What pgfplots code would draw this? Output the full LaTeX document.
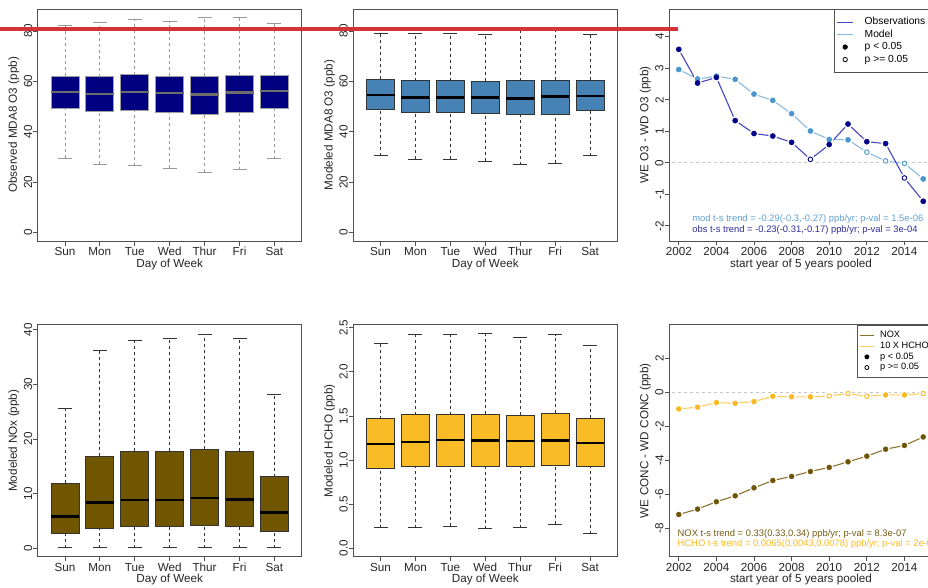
\documentclass[border=0pt]{standalone}
\usepackage{fontspec}
\setmainfont{Liberation Sans}
\usepackage{pgfplots}
\pgfplotsset{compat=1.18}
\usepgfplotslibrary{statistics}

\definecolor{axgray}{RGB}{80,80,80}
\definecolor{navyfill}{RGB}{0,0,128}
\definecolor{steel}{RGB}{70,130,180}
\definecolor{olivebox}{RGB}{112,86,0}
\definecolor{goldbox}{RGB}{249,188,38}
\definecolor{obsline}{RGB}{70,70,190}
\definecolor{obspt}{RGB}{0,0,139}
\definecolor{modline}{RGB}{135,185,225}
\definecolor{modpt}{RGB}{75,150,205}
\definecolor{modtxt}{RGB}{95,160,210}
\definecolor{obstxt}{RGB}{45,45,155}
\definecolor{noxline}{RGB}{140,115,45}
\definecolor{noxpt}{RGB}{110,85,5}
\definecolor{noxtxt}{RGB}{115,92,20}
\definecolor{hcholine}{RGB}{255,205,95}
\definecolor{hchopt}{RGB}{250,185,35}
\definecolor{redline}{RGB}{214,51,56}

\newcommand{\fs}[1]{\fontsize{#1}{#1}\selectfont}
\newcommand{\bp}[6]{\addplot[boxplot prepared={draw position=#1, lower whisker=#2, lower quartile=#3, median=#4, upper quartile=#5, upper whisker=#6}] coordinates {};}

\pgfplotsset{
  rstyle/.style={
    scale only axis, width=264pt, height=232pt,
    axis line style={axgray, line width=0.8pt},
    tick style={axgray, line width=0.8pt},
    tick align=outside, major tick length=4.5pt,
    xtick pos=left, ytick pos=left,
    tick label style={font=\fs{11.7}, text=black!85},
    label style={font=\fs{11.7}, text=black!85},
    /pgf/number format/assume math mode=true,
    /pgf/number format/1000 sep={},
    yticklabel style={rotate=90, anchor=south, inner sep=0.8pt},
    xticklabel style={anchor=north, inner sep=1.3pt, text height=8.6pt, text depth=2.4pt},
    ylabel style={at={(axis description cs:-0.09,0.5)}, anchor=center},
    xlabel style={at={(axis description cs:0.5,-0.1)}, anchor=center},
  },
  boxstyle/.style={
    rstyle, xmin=0.22, xmax=7.78, xtick={1,...,7},
    xticklabels={Sun,Mon,Tue,Wed,Thur,Fri,Sat}, xlabel={Day of Week},
    boxplot/draw direction=y,
    boxplot/box extend=0.8, boxplot/whisker extend=0.4,
    boxplot/draw/lower whisker/.code={%
      \draw[/pgfplots/boxplot/every whisker/.try, dash pattern=on 3pt off 3pt]
        (boxplot box cs:\pgfplotsboxplotvalue{lower whisker},0.5) --
        (boxplot box cs:\pgfplotsboxplotvalue{lower quartile},0.5);
      \draw[/pgfplots/boxplot/every whisker/.try]
        (boxplot whisker cs:\pgfplotsboxplotvalue{lower whisker},0) --
        (boxplot whisker cs:\pgfplotsboxplotvalue{lower whisker},1);
    },
    boxplot/draw/upper whisker/.code={%
      \draw[/pgfplots/boxplot/every whisker/.try, dash pattern=on 3pt off 3pt]
        (boxplot box cs:\pgfplotsboxplotvalue{upper quartile},0.5) --
        (boxplot box cs:\pgfplotsboxplotvalue{upper whisker},0.5);
      \draw[/pgfplots/boxplot/every whisker/.try]
        (boxplot whisker cs:\pgfplotsboxplotvalue{upper whisker},0) --
        (boxplot whisker cs:\pgfplotsboxplotvalue{upper whisker},1);
    },
  },
  yearstyle/.style={
    rstyle, xmin=2001.48, xmax=2015.52, xtick={2002,2004,...,2014},
    xlabel={start year of 5 years pooled},
  },
}

\begin{document}
\begin{tikzpicture}
\useasboundingbox (0,0) rectangle (928pt,587pt);

% ---------- Panel 1: observed MDA8 O3
\begin{axis}[boxstyle, at={(37.7pt,346pt)}, anchor=south west,
  ymin=-3.3, ymax=88.7, ytick={0,20,...,80}, ylabel={Observed MDA8 O3 (ppb)},
  boxplot/every box/.style={draw=gray!75, fill=navyfill, line width=0.8pt},
  boxplot/every median/.style={draw=gray!85!black, line width=2.2pt},
  boxplot/every whisker/.style={draw=gray!80, line width=0.8pt}]
\bp{1}{29.6}{49.4}{55.9}{62.0}{82.0}
\bp{2}{27.2}{48.1}{55.1}{61.8}{83.2}
\bp{3}{26.6}{48.5}{55.9}{62.6}{84.5}
\bp{4}{25.6}{47.7}{55.4}{62.1}{83.6}
\bp{5}{24.0}{46.9}{54.8}{62.0}{85.2}
\bp{6}{25.0}{47.7}{55.6}{62.5}{85.2}
\bp{7}{29.3}{49.3}{56.2}{62.5}{82.9}
\end{axis}

% ---------- Panel 2: modeled MDA8 O3
\begin{axis}[boxstyle, at={(353.3pt,346pt)}, anchor=south west,
  ymin=-3.3, ymax=88.7, ytick={0,20,...,80}, ylabel={Modeled MDA8 O3 (ppb)},
  boxplot/every box/.style={draw=black!80, fill=steel, line width=0.8pt},
  boxplot/every median/.style={draw=black, line width=2.4pt},
  boxplot/every whisker/.style={draw=black!80, line width=0.8pt}]
\bp{1}{30.5}{48.7}{54.6}{60.9}{79.2}
\bp{2}{29.2}{47.7}{53.6}{60.3}{79.2}
\bp{3}{29.2}{47.7}{53.6}{60.2}{79.2}
\bp{4}{28.4}{47.3}{53.6}{60.0}{78.7}
\bp{5}{27.0}{46.9}{53.2}{60.3}{80.5}
\bp{6}{27.5}{47.1}{54.0}{60.5}{80.5}
\bp{7}{30.5}{48.5}{54.3}{60.5}{78.7}
\end{axis}

% ---------- Panel 3: WE - WD O3
\begin{axis}[yearstyle, at={(669pt,346pt)}, anchor=south west,
  ymin=-2.48, ymax=4.88, ytick={-2,...,4}, ylabel={WE O3 - WD O3 (ppb)},
  legend image code/.code={\draw[mark repeat=2, mark phase=2, #1] plot coordinates {(0pt,0pt) (8pt,0pt) (16pt,0pt)};},
  legend style={at={(rel axis cs:0.626,1)}, anchor=north west, draw=axgray, fill=white,
    line width=0.8pt, font=\fs{10.3}, inner xsep=2pt, inner ysep=6.4pt, column sep=9.5pt,
    nodes={inner sep=1.5pt, text height=7.4pt, text depth=2.1pt}},
  legend cell align=left]
\addlegendimage{obsline, line width=1pt}\addlegendentry{Observations}
\addlegendimage{modline, line width=1pt}\addlegendentry{Model}
\addlegendimage{only marks, mark=*, black, mark size=2.2pt}\addlegendentry{p < 0.05}
\addlegendimage{only marks, mark=o, black, mark size=2.2pt}\addlegendentry{p >= 0.05}
\addplot[forget plot, gray!45, dashed, line width=0.8pt] coordinates {(2001,0) (2016,0)};
\addplot[forget plot, modline, line width=1.1pt] coordinates {
(2002,2.96) (2003,2.66) (2004,2.75) (2005,2.65) (2006,2.18) (2007,1.98) (2008,1.56)
(2009,1.01) (2010,0.74) (2011,0.73) (2012,0.34) (2013,0.06) (2014,-0.02) (2015,-0.51)};
\addplot[forget plot, obsline, line width=1.1pt] coordinates {
(2002,3.60) (2003,2.53) (2004,2.71) (2005,1.34) (2006,0.93) (2007,0.85) (2008,0.65)
(2009,0.11) (2010,0.58) (2011,1.23) (2012,0.67) (2013,0.61) (2014,-0.48) (2015,-1.22)};
\addplot[forget plot, only marks, mark=*, mark size=4.2pt, mark options={draw=white, fill=white}] coordinates {
(2002,2.96) (2003,2.66) (2004,2.75) (2005,2.65) (2006,2.18) (2007,1.98) (2008,1.56)
(2009,1.01) (2010,0.74) (2011,0.73) (2012,0.34) (2013,0.06) (2014,-0.02) (2015,-0.51)
(2002,3.60) (2003,2.53) (2004,2.71) (2005,1.34) (2006,0.93) (2007,0.85) (2008,0.65)
(2009,0.11) (2010,0.58) (2011,1.23) (2012,0.67) (2013,0.61) (2014,-0.48) (2015,-1.22)};
\addplot[forget plot, only marks, mark=*, mark size=2.6pt, mark options={draw=modpt, fill=modpt}] coordinates {
(2002,2.96) (2003,2.66) (2004,2.75) (2005,2.65) (2006,2.18) (2007,1.98) (2008,1.56)
(2009,1.01) (2010,0.74) (2011,0.73) (2015,-0.51)};
\addplot[forget plot, only marks, mark=*, mark size=2.3pt, mark options={draw=modpt, fill=white, line width=0.9pt}] coordinates {
(2012,0.34) (2013,0.06) (2014,-0.02)};
\addplot[forget plot, only marks, mark=*, mark size=2.6pt, mark options={draw=obspt, fill=obspt}] coordinates {
(2002,3.60) (2003,2.53) (2004,2.71) (2005,1.34) (2006,0.93) (2007,0.85) (2008,0.65)
(2010,0.58) (2011,1.23) (2012,0.67) (2013,0.61) (2015,-1.22)};
\addplot[forget plot, only marks, mark=*, mark size=2.3pt, mark options={draw=obspt, fill=white, line width=0.9pt}] coordinates {
(2009,0.11) (2014,-0.48)};
\node[anchor=west, inner sep=0pt, font=\fs{9.4}, text=modtxt] at (axis cs:2002.71,-1.78)
  {mod t-s trend = -0.29(-0.3,-0.27) ppb/yr; p-val = 1.5e-06};
\node[anchor=west, inner sep=0pt, font=\fs{9.4}, text=obstxt] at (axis cs:2002.71,-2.13)
  {obs t-s trend = -0.23(-0.31,-0.17) ppb/yr; p-val = 3e-04};
\end{axis}

% ---------- Panel 4: modeled NOx
\begin{axis}[boxstyle, at={(37.7pt,30.3pt)}, anchor=south west,
  ymin=-1.53, ymax=40.9, ytick={0,10,...,40}, ylabel={Modeled NOx (ppb)},
  boxplot/every box/.style={draw=black!80, fill=olivebox, line width=0.8pt},
  boxplot/every median/.style={draw=black, line width=2.4pt},
  boxplot/every whisker/.style={draw=black!80, line width=0.8pt}]
\bp{1}{0.12}{2.74}{5.84}{11.9}{25.6}
\bp{2}{0.1}{3.7}{8.39}{16.8}{36.2}
\bp{3}{0.1}{3.95}{8.81}{17.75}{38.1}
\bp{4}{0.1}{4.07}{8.81}{17.8}{38.4}
\bp{5}{0.1}{4.13}{9.23}{18.1}{39.2}
\bp{6}{0.1}{4.07}{8.94}{17.75}{38.4}
\bp{7}{0.1}{3.04}{6.57}{13.07}{28.1}
\end{axis}

% ---------- Panel 5: modeled HCHO
\begin{axis}[boxstyle, at={(353.3pt,30.3pt)}, anchor=south west,
  ymin=-0.095, ymax=2.534, ytick={0,0.5,1,1.5,2,2.5}, ylabel={Modeled HCHO (ppb)},
  yticklabel style={/pgf/number format/.cd, fixed, fixed zerofill, precision=1},
  boxplot/every box/.style={draw=black!80, fill=goldbox, line width=0.8pt},
  boxplot/every median/.style={draw=black, line width=2.4pt},
  boxplot/every whisker/.style={draw=black!80, line width=0.8pt}]
\bp{1}{0.233}{0.900}{1.180}{1.470}{2.32}
\bp{2}{0.233}{0.923}{1.206}{1.516}{2.42}
\bp{3}{0.252}{0.923}{1.225}{1.516}{2.42}
\bp{4}{0.222}{0.923}{1.222}{1.523}{2.43}
\bp{5}{0.233}{0.923}{1.214}{1.508}{2.39}
\bp{6}{0.271}{0.939}{1.222}{1.530}{2.42}
\bp{7}{0.165}{0.923}{1.195}{1.474}{2.30}
\end{axis}

% ---------- Panel 6: WE - WD NOx / HCHO
\begin{axis}[yearstyle, at={(669pt,30.3pt)}, anchor=south west,
  ymin=-9.65, ymax=3.99, ytick={-8,-6,...,2}, ylabel={WE CONC - WD CONC (ppb)},
  legend image code/.code={\draw[mark repeat=2, mark phase=2, #1] plot coordinates {(0pt,0pt) (7pt,0pt) (14pt,0pt)};},
  legend style={at={(rel axis cs:0.712,1)}, anchor=north west, draw=axgray, fill=white,
    line width=0.8pt, font=\fs{9.2}, inner xsep=2pt, inner ysep=5pt, column sep=4.7pt,
    nodes={inner sep=1.1pt, text height=6.6pt, text depth=1.9pt}},
  legend cell align=left]
\addlegendimage{noxline, line width=1pt}\addlegendentry{NOX}
\addlegendimage{hcholine, line width=1pt}\addlegendentry{10 X HCHO}
\addlegendimage{only marks, mark=*, black, mark size=2pt}\addlegendentry{p < 0.05}
\addlegendimage{only marks, mark=o, black, mark size=2pt}\addlegendentry{p >= 0.05}
\addplot[forget plot, gray!45, dashed, line width=0.8pt] coordinates {(2001,0) (2016,0)};
\addplot[forget plot, noxline, line width=1.1pt] coordinates {
(2002,-7.17) (2003,-6.85) (2004,-6.42) (2005,-6.07) (2006,-5.60) (2007,-5.17) (2008,-4.93)
(2009,-4.64) (2010,-4.40) (2011,-4.07) (2012,-3.74) (2013,-3.33) (2014,-3.11) (2015,-2.61)};
\addplot[forget plot, hcholine, line width=1.1pt] coordinates {
(2002,-0.96) (2003,-0.86) (2004,-0.59) (2005,-0.63) (2006,-0.53) (2007,-0.22) (2008,-0.25)
(2009,-0.25) (2010,-0.20) (2011,-0.06) (2012,-0.22) (2013,-0.14) (2014,-0.14) (2015,-0.06)};
\addplot[forget plot, only marks, mark=*, mark size=4pt, mark options={draw=white, fill=white}] coordinates {
(2002,-7.17) (2003,-6.85) (2004,-6.42) (2005,-6.07) (2006,-5.60) (2007,-5.17) (2008,-4.93)
(2009,-4.64) (2010,-4.40) (2011,-4.07) (2012,-3.74) (2013,-3.33) (2014,-3.11) (2015,-2.61)
(2002,-0.96) (2003,-0.86) (2004,-0.59) (2005,-0.63) (2006,-0.53) (2007,-0.22) (2008,-0.25)
(2009,-0.25) (2010,-0.20) (2011,-0.06) (2012,-0.22) (2013,-0.14) (2014,-0.14) (2015,-0.06)};
\addplot[forget plot, only marks, mark=*, mark size=2.5pt, mark options={draw=noxpt, fill=noxpt}] coordinates {
(2002,-7.17) (2003,-6.85) (2004,-6.42) (2005,-6.07) (2006,-5.60) (2007,-5.17) (2008,-4.93)
(2009,-4.64) (2010,-4.40) (2011,-4.07) (2012,-3.74) (2013,-3.33) (2014,-3.11) (2015,-2.61)};
\addplot[forget plot, only marks, mark=*, mark size=2.5pt, mark options={draw=hchopt, fill=hchopt}] coordinates {
(2002,-0.96) (2003,-0.86) (2004,-0.59) (2005,-0.63) (2006,-0.53) (2007,-0.22) (2008,-0.25)
(2009,-0.25) (2013,-0.14) (2014,-0.14)};
\addplot[forget plot, only marks, mark=*, mark size=2.2pt, mark options={draw=hchopt, fill=white, line width=0.9pt}] coordinates {
(2010,-0.20) (2011,-0.06) (2012,-0.22) (2015,-0.06)};
\node[anchor=west, inner sep=0pt, font=\fs{9.4}, text=noxtxt] at (axis cs:2001.93,-8.34)
  {NOX t-s trend = 0.33(0.33,0.34) ppb/yr; p-val = 8.3e-07};
\node[anchor=west, inner sep=0pt, font=\fs{9.4}, text=hchopt] at (axis cs:2001.93,-8.91)
  {HCHO t-s trend = 0.0065(0.0043,0.0078) ppb/yr; p-val = 2e-04};
\end{axis}

% red reference line across the top row
\draw[redline, line width=4pt] (0pt,558pt) -- (678.3pt,558pt);
\end{tikzpicture}
\end{document}
